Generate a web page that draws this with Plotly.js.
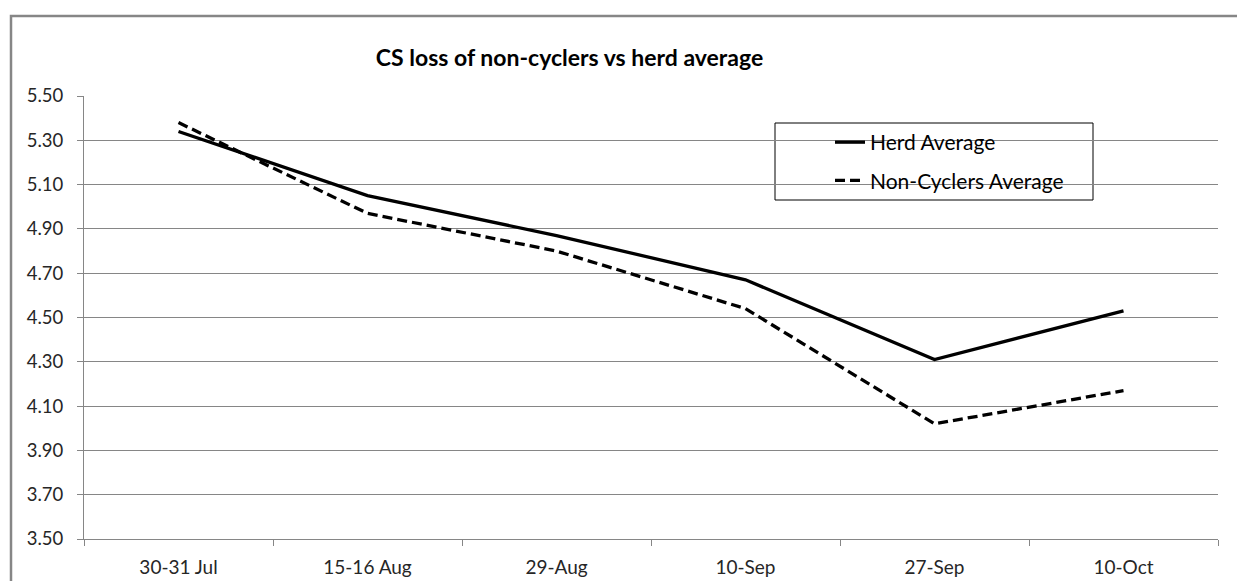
<!DOCTYPE html>
<html>
<head>
<meta charset="utf-8">
<script src="https://cdn.plot.ly/plotly-3.0.1.min.js"></script>
<style>
  body { margin: 0; background: #fff; }
  #myDiv { width: 1237px; height: 581px; }
</style>
</head>
<body>
<div id="myDiv"></div>
<script>
var dates = ['30-31 Jul', '15-16 Aug', '29-Aug', '10-Sep', '27-Sep', '10-Oct'];
var herdAvg = [5.34, 5.05, 4.87, 4.67, 4.31, 4.53];
var nonCyclersAvg = [5.38, 4.97, 4.80, 4.54, 4.02, 4.17];

var trace1 = {
  x: dates,
  y: herdAvg,
  type: 'scatter',
  mode: 'lines',
  name: 'Herd Average',
  legendgroup: 'a',
  line: {color: '#000', width: 3.3}
};

var trace2 = {
  x: dates,
  y: nonCyclersAvg,
  type: 'scatter',
  mode: 'lines',
  name: 'Non-Cyclers Average',
  legendgroup: 'b',
  line: {color: '#000', width: 3.3, dash: '10px,5px'}
};

var data = [trace1, trace2];

// plot area is 84..1218 x 96..539 px
var W = 1134, H = 443;
function px(x) { return (x - 84) / W; }
function py(y) { return (539 - y) / H; }

var layout = {
  width: 1237,
  height: 581,
  margin: {l: 84, r: 19, t: 96, b: 42, pad: 0},
  paper_bgcolor: '#fff',
  plot_bgcolor: '#fff',
  font: {family: 'Lato, sans-serif', size: 18, color: '#262626'},
  title: {
    text: '<b>CS loss of non-cyclers vs herd average</b>',
    xref: 'container', x: 569.5 / 1237, xanchor: 'center',
    yref: 'container', y: 1 - 58 / 581, yanchor: 'middle',
    font: {family: 'Lato, sans-serif', size: 23, color: '#000'}
  },
  xaxis: {
    type: 'category',
    range: [-0.5, 5.5],
    tickson: 'boundaries',
    ticks: 'outside',
    ticklen: 6,
    tickcolor: '#868686',
    showline: true,
    linecolor: '#868686',
    linewidth: 1,
    showgrid: false,
    ticklabelstandoff: 11,
    tickfont: {size: 19, color: '#262626'}
  },
  yaxis: {
    range: [3.5, 5.5],
    dtick: 0.2,
    tick0: 3.5,
    tickformat: '.2f',
    ticks: 'outside',
    ticklen: 6,
    tickcolor: '#868686',
    showline: true,
    linecolor: '#868686',
    linewidth: 1,
    gridcolor: '#868686',
    gridwidth: 1,
    zeroline: false,
    ticklabelstandoff: 10,
    tickfont: {size: 18.5, color: '#262626'}
  },
  showlegend: true,
  legend: {
    x: px(830), xanchor: 'left',
    y: py(122), yanchor: 'top',
    bgcolor: 'rgba(0,0,0,0)',
    borderwidth: 0,
    traceorder: 'grouped',
    tracegroupgap: 8,
    font: {size: 21, color: '#000'}
  },
  shapes: [
    // legend box
    {type: 'rect', xref: 'paper', yref: 'paper',
     x0: px(775), x1: px(1093), y0: py(200), y1: py(123),
     line: {color: '#000', width: 1}, fillcolor: '#fff', layer: 'below'},
    // outer chart border
    {type: 'rect', xref: 'paper', yref: 'paper',
     x0: px(11), x1: px(1300), y0: py(640), y1: py(16),
     line: {color: '#868686', width: 2.5}}
  ]
};

Plotly.newPlot('myDiv', data, layout, {displayModeBar: false});
</script>
</body>
</html>
